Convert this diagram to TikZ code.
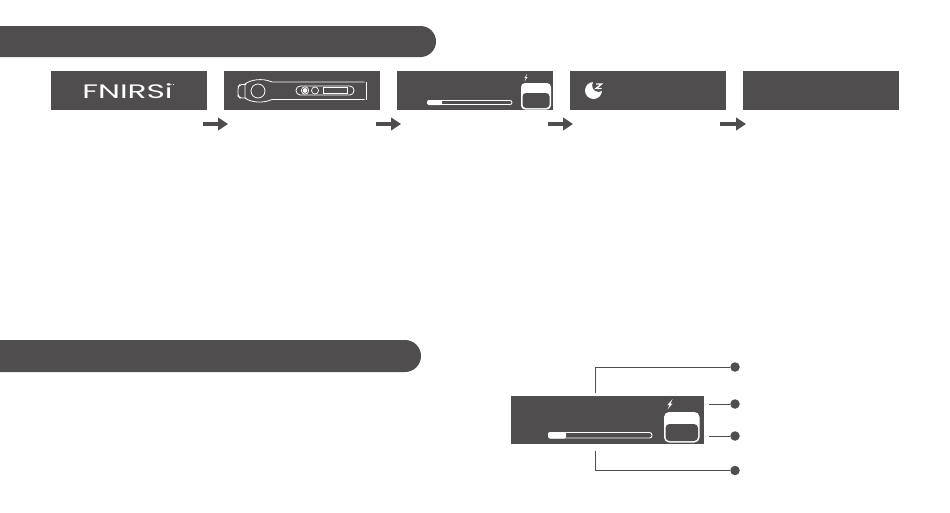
\documentclass[tikz,border=0pt]{standalone}
\usepackage{fontspec}
\setmainfont{Poppins}
\usetikzlibrary{arrows.meta}
\definecolor{ink}{HTML}{4F4D4E}
\tikzset{
  panel/.style={fill=ink,draw=none,minimum width=156pt,minimum height=39pt,inner sep=0pt,outer sep=0pt},
  widepanel/.style={fill=ink,draw=none,minimum width=193pt,minimum height=48pt,inner sep=0pt,outer sep=0pt},
  flow/.style={draw=ink,line width=3.4pt,-{Triangle[length=10pt,width=12.5pt]}},
  lead/.style={draw=ink,line width=1pt},
  dotmark/.style={circle,fill=ink,draw=none,minimum size=9.5pt,inner sep=0pt},
  outl/.style={draw=white,line width=0.9pt},
  bolt/.style={fill=white,draw=none},
  banner/.style={fill=ink,draw=none}
}
\begin{document}
\begin{tikzpicture}[x=1pt,y=-1pt]
\useasboundingbox (0,0) rectangle (950,512);
\fill[white] (0,0) rectangle (950,512);
% banners
\path[banner,rounded corners=15.5pt] (-40,26) rectangle (436,57);
\path[banner,rounded corners=16pt] (-40,340) rectangle (421,372);
% panels
\node[panel] (p1) at (129.3,90.5) {};
\node[panel] (p2) at (302.3,90.5) {};
\node[panel] (p3) at (475.3,90.5) {};
\node[panel] (p4) at (648.3,90.5) {};
\node[panel] (p5) at (821.3,90.5) {};
% logo
\node[text=white,inner sep=0pt,font=\fontsize{19.5}{20}\selectfont,xscale=1.6] (logo) at (127.5,91) {FNIRSi};
\fill[white] (173.5,84.5) circle[radius=.7] (171,84.5) circle[radius=.7];
% device
\draw[outl,line width=.8pt,rounded corners=2pt] (246,84.5) -- (240,84.5) -- (238,87) -- (238,96) -- (240,98) -- (246,98);
\draw[outl,line width=.8pt] (364.5,82) -- (272,82) .. controls (262,77.5) and (250,80) .. (245,84) -- (245,98) .. controls (250,102) and (262,104) .. (272,99.5) -- (364.5,99.5);
\draw[white,line width=1pt] (366,81.5) -- (366,100);
\draw[outl,line width=.8pt] (258,91) circle[radius=7];
\draw[outl,line width=.8pt,rounded corners=4.3pt] (296,86) rectangle (354,95);
\draw[white,line width=.7pt] (305,90.5) circle[radius=3.7];
\fill[white] (305,90.5) circle[radius=2.4];
\draw[white,line width=.7pt] (315,90.5) circle[radius=3.5];
\draw[white,line width=.7pt] (323,87.5) rectangle (347,93.5);
% panel 3 bar
\draw[outl,rounded corners=2pt] (427.5,100.5) rectangle (512,104.5);
\fill[white,rounded corners=1.5pt] (427,100) rectangle (442,105);
% panel 3 battery
\fill[white,rounded corners=4pt] (521,83) rectangle (551,109.5);
\fill[ink,rounded corners=3.5pt] (522.5,93) rectangle (549.5,108);
\path[bolt] (527,74) -- (524.5,78) -- (526,78) -- (524.5,81.5) -- (527.5,77) -- (526,77) -- cycle;
% moon
\fill[white] (593.5,90.5) circle[radius=8.5];
\fill[ink] (598.5,85.5) circle[radius=6.3];
\draw[white,line width=1.4pt] (596,84) -- (601.5,84) -- (596,88.5) -- (601.5,88.5);
% flow arrows
\coordinate (a1s) at (203,124); \coordinate (a1e) at (228,124);
\coordinate (a2s) at (376,124); \coordinate (a2e) at (401,124);
\coordinate (a3s) at (548,124); \coordinate (a3e) at (573,124);
\coordinate (a4s) at (720,124); \coordinate (a4e) at (746,124);
\draw[flow] (a1s) -- (a1e);
\draw[flow] (a2s) -- (a2e);
\draw[flow] (a3s) -- (a3e);
\draw[flow] (a4s) -- (a4e);
% lower panel
\node[widepanel] (lp) at (607.5,420) {};
\draw[outl,rounded corners=2.5pt] (548.5,432.5) rectangle (652,438);
\fill[white,rounded corners=2pt] (548,432) rectangle (566,438.5);
\fill[white,rounded corners=5pt] (664,412) rectangle (699.5,442.5);
\fill[ink,rounded corners=4pt] (665.5,424) rectangle (698,441);
\path[bolt] (672.5,399) -- (667.5,405) -- (669.7,405) -- (667.5,409.5) -- (672.5,403.5) -- (670.5,403.5) -- cycle;
% callouts
\node[dotmark] (d1) at (735,367) {};
\node[dotmark] (d2) at (735,404) {};
\node[dotmark] (d3) at (735,436) {};
\node[dotmark] (d4) at (735,470.5) {};
\coordinate (c1) at (595,392.5);
\coordinate (c2) at (709,404);
\coordinate (c3) at (709,436);
\coordinate (c4) at (595,450.5);
\draw[lead] (c1) |- (d1);
\draw[lead] (c2) -- (d2);
\draw[lead] (c3) -- (d3);
\draw[lead] (c4) |- (d4);
\end{tikzpicture}
\end{document}
